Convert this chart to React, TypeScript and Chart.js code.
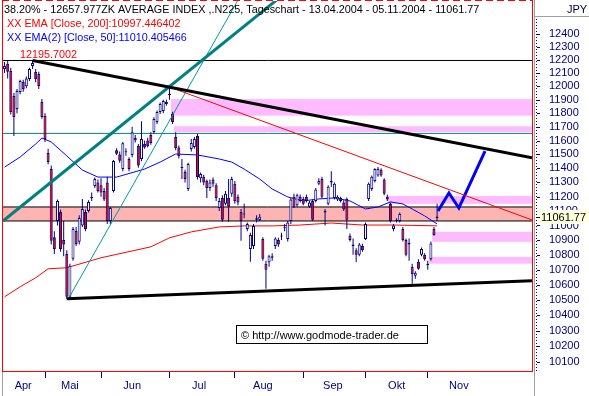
import React, { useEffect, useRef } from 'react';
import { Chart, registerables } from 'chart.js';

Chart.register(...registerables);

// ---- Daily candles N225, 13.04.2004 - 05.11.2004 (trading-day index 0..139) ----
const opens = [
  12131, 12170, 12116, 11928, 11831, 11958, 12033, 12000, 12055, 12154,
  12108, 12093, 11883, 11780, 11510, 11395, 10920, 11031, 11093, 10900,
  10806, 10520, 10773, 10962, 10888, 11000, 11093, 11100, 11190, 11275,
  11300, 11280, 11240, 11300, 11030, 11240, 11530, 11500, 11395, 11520,
  11467, 11495, 11620, 11560, 11467, 11575, 11600, 11640, 11662, 11735,
  11809, 11816, 11883, 11935, 11794, 11626, 11550, 11400, 11374, 11254,
  11539, 11553, 11633, 11330, 11340, 11310, 11260, 11320, 11280, 11120,
  11190, 11150, 11190, 11220, 11290, 11200, 11093, 11080, 10976, 10840,
  10860, 11040, 11038, 10908, 10740, 10750, 10790, 10860, 10900, 10930,
  10990, 10908, 11030, 11200, 11140, 11200, 11184, 11200, 11130, 11170,
  11170, 11290, 11324, 11100, 11150, 11310, 11190, 11180, 11190, 11160,
  11184, 10930, 10870, 10830, 10800, 10860, 10908, 11184, 11254, 11310,
  11350, 11390, 11320, 11200, 11150, 10976, 11030, 11030, 10976, 10900,
  10880, 10720, 10660, 10753, 10800, 10800, 10740, 10770, 10976, 11050,
];
const highs = [
  12185, 12192, 12140, 11950, 11980, 12050, 12050, 12075, 12140, 12196,
  12130, 12110, 11905, 11800, 11540, 11420, 10960, 11180, 11110, 11030,
  10830, 10740, 10990, 10990, 11070, 11184, 11110, 11175, 11230, 11335,
  11320, 11330, 11260, 11340, 11130, 11460, 11545, 11520, 11590, 11545,
  11480, 11700, 11640, 11575, 11740, 11600, 11620, 11660, 11770, 11820,
  11880, 11900, 11900, 11995, 11810, 11660, 11565, 11467, 11390, 11440,
  11611, 11625, 11650, 11370, 11355, 11320, 11320, 11335, 11295, 11190,
  11210, 11240, 11324, 11340, 11310, 11215, 11114, 11150, 11020, 10950,
  11010, 11070, 11080, 10920, 10760, 10800, 10810, 10920, 10915, 10950,
  11010, 11030, 11190, 11220, 11220, 11215, 11200, 11215, 11170, 11180,
  11260, 11330, 11340, 11114, 11280, 11380, 11300, 11210, 11200, 11175,
  11195, 10945, 10910, 10845, 10880, 10875, 11020, 11300, 11350, 11400,
  11410, 11400, 11330, 11215, 11160, 11010, 11050, 11090, 10990, 10910,
  10910, 10740, 10690, 10770, 10850, 10810, 10760, 10890, 10990, 11150,
];
const lows = [
  12100, 12060, 11790, 11633, 11800, 11940, 11960, 11985, 12040, 12130,
  12030, 11980, 11760, 11590, 11430, 10870, 10806, 11000, 10820, 10790,
  10505, 10510, 10760, 10860, 10870, 10990, 10960, 11090, 11170, 11260,
  11230, 11200, 11170, 11010, 11010, 11230, 11495, 11440, 11380, 11490,
  11380, 11480, 11585, 11405, 11450, 11540, 11550, 11570, 11650, 11720,
  11795, 11800, 11855, 11900, 11720, 11530, 11470, 11324, 11300, 11240,
  11520, 11540, 11320, 11300, 11280, 11190, 11240, 11270, 11170, 11100,
  11025, 11140, 11025, 11200, 11150, 11140, 10895, 11050, 10960, 10753,
  10840, 11020, 11030, 10760, 10573, 10720, 10760, 10840, 10855, 10900,
  10960, 10890, 11010, 11120, 11130, 11160, 11140, 11160, 11120, 11030,
  11160, 11280, 11190, 11000, 11140, 11270, 11180, 11170, 11160, 11100,
  10976, 10890, 10800, 10750, 10790, 10820, 10900, 11170, 11240, 11300,
  11340, 11340, 11210, 11170, 11020, 10960, 11020, 11020, 10890, 10790,
  10760, 10606, 10640, 10700, 10790, 10760, 10700, 10760, 10930, 11030,
];
const closes = [
  12154, 12110, 11809, 11772, 11965, 12040, 11980, 12060, 12131, 12176,
  12055, 12003, 11772, 11611, 11445, 10895, 10840, 11170, 10840, 10870,
  10520, 10726, 10976, 10874, 11052, 11114, 10976, 11163, 11200, 11324,
  11240, 11230, 11180, 11030, 11120, 11452, 11505, 11455, 11580, 11515,
  11395, 11660, 11600, 11420, 11611, 11550, 11560, 11582, 11757, 11809,
  11868, 11890, 11868, 11940, 11735, 11546, 11489, 11410, 11324, 11431,
  11582, 11611, 11338, 11360, 11300, 11260, 11300, 11290, 11190, 11170,
  11040, 11220, 11130, 11324, 11170, 11160, 11030, 11075, 11010, 10935,
  10996, 11050, 11060, 10773, 10700, 10790, 10780, 10910, 10870, 10925,
  10985, 11020, 11180, 11130, 11210, 11170, 11150, 11170, 11160, 11040,
  11250, 11310, 11200, 11090, 11270, 11300, 11290, 11200, 11170, 11110,
  11040, 10900, 10860, 10800, 10870, 10830, 11010, 11290, 11340, 11395,
  11395, 11350, 11220, 11180, 11030, 11000, 11040, 11080, 10900, 10800,
  10870, 10670, 10680, 10706, 10840, 10770, 10730, 10876, 10935, 11061.77,
];

// ---- Indicators, read at sample days: [day index, value] ----
const ema200 = [
  [0, 10520], [5, 10586], [10, 10646], [14, 10706], [20, 10713], [31, 10780],
  [47, 10854], [53, 10915], [60, 10956], [69, 10990], [77, 10997], [86, 10997],
  [95, 11003], [105, 11017], [115, 11003], [125, 11003], [139, 10997.45],
];
const ema50 = [
  [0, 11409], [5, 11481], [10, 11575], [12, 11618], [15, 11590], [20, 11489],
  [25, 11388], [30, 11338], [36, 11338], [45, 11395], [50, 11445], [55, 11503],
  [62, 11496], [69, 11467], [73, 11445], [77, 11395], [82, 11324], [86, 11254],
  [91, 11198], [96, 11170], [101, 11184], [106, 11191], [111, 11170], [116, 11114],
  [120, 11128], [124, 11163], [128, 11149], [131, 11114], [135, 11066], [139, 11010.41],
];

// ---- Drawn analysis: trendlines [day index, value] ----
const topResistance = [[9, 12196], [169.5, 11475]];
const bottomSupport = [[20, 10507], [169.5, 10626]];
const tealChannel = [[-0.5, 11031], [90, 12717]];
const tealSteep = [[20.5, 10507], [76.2, 12717]];
const redFall = [[53, 11995], [169.5, 11038]];
const forecastPath = [[139.3, 11100], [142.8, 11226], [146, 11121], [154.4, 11524]];

// horizontal levels
const levelHigh = 12195.7002;
const levelTeal = 11652;
const bandTop = 11128;
const bandBottom = 11031;

// pink target zones: start day, upper value, lower value
const zoneStart = [53.5, 54.4, 123.2, 137.4, 136.4];
const zoneHigh = [11905, 11704, 11205, 10956, 10786];
const zoneLow = [11782, 11662, 11150, 10888, 10740];

// ---- Axes ----
const monthNames = ['Apr', 'Mai', 'Jun', 'Jul', 'Aug', 'Sep', 'Okt', 'Nov'];
const monthLabelAt = [6, 21, 41, 62.5, 83, 105.5, 126, 146];
const monthStartAt = [13, 31, 53, 74, 96, 116, 136];
const yTicks = [
  10100, 10200, 10300, 10400, 10500, 10600, 10700, 10800, 10900, 11000, 11100, 11200,
  11300, 11400, 11500, 11600, 11700, 11800, 11900, 12000, 12100, 12200, 12300, 12400,
];
const lastClose = 11061.77;

const NAVY = '#000080';
const FONT = '"Liberation Sans", Arial, sans-serif';

const pts = (arr: number[][]) => arr.map(([x, y]) => ({ x, y }));
const hline = (v: number) => [{ x: -0.5, y: v }, { x: 169.5, y: v }];

export default function App() {
  const ref = useRef<HTMLCanvasElement | null>(null);

  useEffect(() => {
    const canvas = ref.current;
    if (!canvas) return;

    const decor = {
      id: 'decor',
      beforeDatasetsDraw(chart: any) {
        const { ctx, chartArea: a } = chart;
        const x = chart.scales.x;
        const y = chart.scales.y;
        ctx.save();
        ctx.beginPath();
        ctx.rect(a.left, a.top, a.right - a.left, a.bottom - a.top);
        ctx.clip();
        ctx.fillStyle = '#FFB4B4';
        const b1 = y.getPixelForValue(bandTop);
        const b2 = y.getPixelForValue(bandBottom);
        ctx.fillRect(a.left, b1, a.right - a.left, b2 - b1);
        ctx.fillStyle = '#FFBBFF';
        zoneStart.forEach((s, i) => {
          const x0 = x.getPixelForValue(s);
          const y0 = y.getPixelForValue(zoneHigh[i]);
          const y1 = y.getPixelForValue(zoneLow[i]);
          ctx.fillRect(x0, y0, a.right - x0, y1 - y0);
        });
        ctx.restore();
      },
      afterDraw(chart: any) {
        const { ctx } = chart;
        const y = chart.scales.y;
        ctx.save();
        // grey separators
        ctx.fillStyle = '#A0A0A0';
        ctx.fillRect(534, 0, 1, 396);
        ctx.fillRect(534, 16, 55, 1);
        ctx.fillRect(2, 372, 1, 24);
        // red frame
        ctx.fillStyle = '#FF0000';
        ctx.fillRect(2, 0, 1, 372);
        ctx.fillRect(532, 0, 1, 372);
        ctx.fillRect(2, 371, 531, 1);
        ctx.strokeStyle = '#FF0000';
        ctx.lineWidth = 1;
        ctx.setLineDash([7, 4]);
        ctx.beginPath();
        ctx.moveTo(2, 0.5);
        ctx.lineTo(533, 0.5);
        ctx.stroke();
        // dotted y axis line + tick dashes
        ctx.setLineDash([1, 2]);
        ctx.strokeStyle = NAVY;
        ctx.beginPath();
        ctx.moveTo(536.5, 19);
        ctx.lineTo(536.5, 372);
        ctx.stroke();
        ctx.setLineDash([]);
        ctx.fillStyle = NAVY;
        yTicks.forEach((v) => {
          ctx.fillRect(537, Math.round(y.getPixelForValue(v)), 3, 1);
        });
        // JPY
        ctx.font = `11px ${FONT}`;
        ctx.fillStyle = '#000040';
        ctx.textBaseline = 'alphabetic';
        ctx.textAlign = 'left';
        ctx.fillText('JPY', 567, 13);
        // last close marker
        const py = Math.round(y.getPixelForValue(lastClose));
        ctx.fillStyle = '#FFFFE1';
        ctx.fillRect(537, py - 7, 52, 14);
        ctx.fillStyle = '#000000';
        ctx.fillRect(537, py, 3, 1);
        ctx.fillText('11061.77', 541, py + 4);
        // legend texts
        ctx.font = `10.8px ${FONT}`;
        ctx.fillStyle = '#000000';
        ctx.fillText('38.20% - 12657.977ZK AVERAGE INDEX ,.N225, Tageschart - 13.04.2004 - 05.11.2004 - 11061.77', 4, 13);
        ctx.fillStyle = '#FF0000';
        ctx.fillText('XX EMA [Close, 200]:10997.446402', 7, 27);
        ctx.fillStyle = '#0000FF';
        ctx.fillText('XX EMA(2) [Close, 50]:11010.405466', 7, 41);
        ctx.fillStyle = '#FF0000';
        ctx.fillText('12195.7002', 20, 58);
        // watermark
        ctx.font = `11px ${FONT}`;
        ctx.fillStyle = '#FFFFFF';
        ctx.fillRect(236, 325, 191, 18);
        ctx.strokeStyle = '#000000';
        ctx.strokeRect(236.5, 325.5, 191, 18);
        ctx.fillStyle = '#000000';
        ctx.fillText('\u00A9 http://www.godmode-trader.de', 241, 339);
        ctx.restore();
      },
    };

    const lineDs = (data: any[], color: string, width: number, order: number) => ({
      type: 'line' as const,
      data,
      borderColor: color,
      borderWidth: width,
      pointRadius: 0,
      tension: 0,
      fill: false,
      clip: 0,
      order,
    });

    const chart = new Chart(canvas, {
      type: 'bar',
      data: {
        datasets: [
          lineDs(pts(topResistance), '#000000', 3, 0),
          lineDs(pts(bottomSupport), '#000000', 3, 0),
          lineDs(pts(tealChannel), '#008080', 3, 0),
          lineDs(pts(tealSteep), '#009999', 1, 0),
          lineDs(pts(redFall), '#FF0000', 1, 0),
          lineDs(pts(forecastPath), '#0000FF', 3, 0),
          {
            type: 'bar' as const,
            data: opens.map((o, i) => ({ x: i, y: [o, closes[i]] })) as any,
            backgroundColor: opens.map((o, i) => (closes[i] >= o ? '#FFFFFF' : '#FF0000')),
            borderColor: NAVY,
            borderWidth: 1,
            borderSkipped: false,
            barThickness: 3,
            minBarLength: 1,
            grouped: false,
            inflateAmount: 0,
            order: 1,
          },
          {
            type: 'bar' as const,
            data: lows.map((l, i) => ({ x: i, y: [l, highs[i]] })) as any,
            backgroundColor: NAVY,
            borderWidth: 0,
            barThickness: 1,
            grouped: false,
            inflateAmount: 0,
            order: 2,
          },
          lineDs(pts(ema200), '#FF0000', 1, 3),
          lineDs(pts(ema50), '#0000FF', 1, 3),
          lineDs(hline(levelHigh), '#000000', 1, 4),
          lineDs(hline(levelTeal), '#008080', 1, 4),
          lineDs(hline(bandTop), '#000000', 1, 4),
          lineDs(hline(bandBottom), '#000000', 1, 4),
        ] as any,
      },
      options: {
        responsive: false,
        devicePixelRatio: 1,
        animation: false,
        events: [],
        layout: { padding: { left: 3, top: 1, right: 0, bottom: 0 } },
        plugins: { legend: { display: false }, tooltip: { enabled: false }, title: { display: false } },
        scales: {
          x: {
            type: 'linear',
            min: -0.5,
            max: 169.5,
            offset: false,
            afterBuildTicks: (axis: any) => {
              axis.ticks = [...monthStartAt, ...monthLabelAt].sort((p, q) => p - q).map((v) => ({ value: v }));
            },
            afterFit: (axis: any) => {
              axis.height = 25;
              axis.paddingLeft = 0;
              axis.paddingRight = 0;
            },
            border: { display: false },
            grid: {
              drawOnChartArea: false,
              drawTicks: true,
              tickLength: 7,
              offset: false,
              color: (c: any) => (c.tick && monthStartAt.includes(c.tick.value) ? NAVY : 'rgba(0,0,0,0)'),
            },
            ticks: {
              autoSkip: false,
              maxRotation: 0,
              minRotation: 0,
              padding: 1,
              color: NAVY,
              font: { family: FONT, size: 11 },
              callback: (v: any) => {
                const k = monthLabelAt.indexOf(Number(v));
                return k >= 0 ? monthNames[k] : '';
              },
            },
          },
          y: {
            type: 'logarithmic',
            position: 'right',
            min: 10043,
            max: 12657.977,
            afterBuildTicks: (axis: any) => {
              axis.ticks = yTicks.map((v) => ({ value: v }));
            },
            afterFit: (axis: any) => {
              axis.width = 57;
              axis.paddingTop = 0;
              axis.paddingBottom = 0;
            },
            border: { display: false },
            grid: { display: false },
            ticks: {
              autoSkip: false,
              padding: 9,
              color: NAVY,
              font: { family: FONT, size: 11 },
              callback: (v: any) => String(v),
            },
          },
        },
      },
      plugins: [decor],
    } as any);

    return () => chart.destroy();
  }, []);

  return (
    <div style={{ position: 'absolute', left: 0, top: 0, width: 589, height: 396, background: '#FFFFFF' }}>
      <canvas ref={ref} width={589} height={396} style={{ width: 589, height: 396, display: 'block' }} />
    </div>
  );
}
